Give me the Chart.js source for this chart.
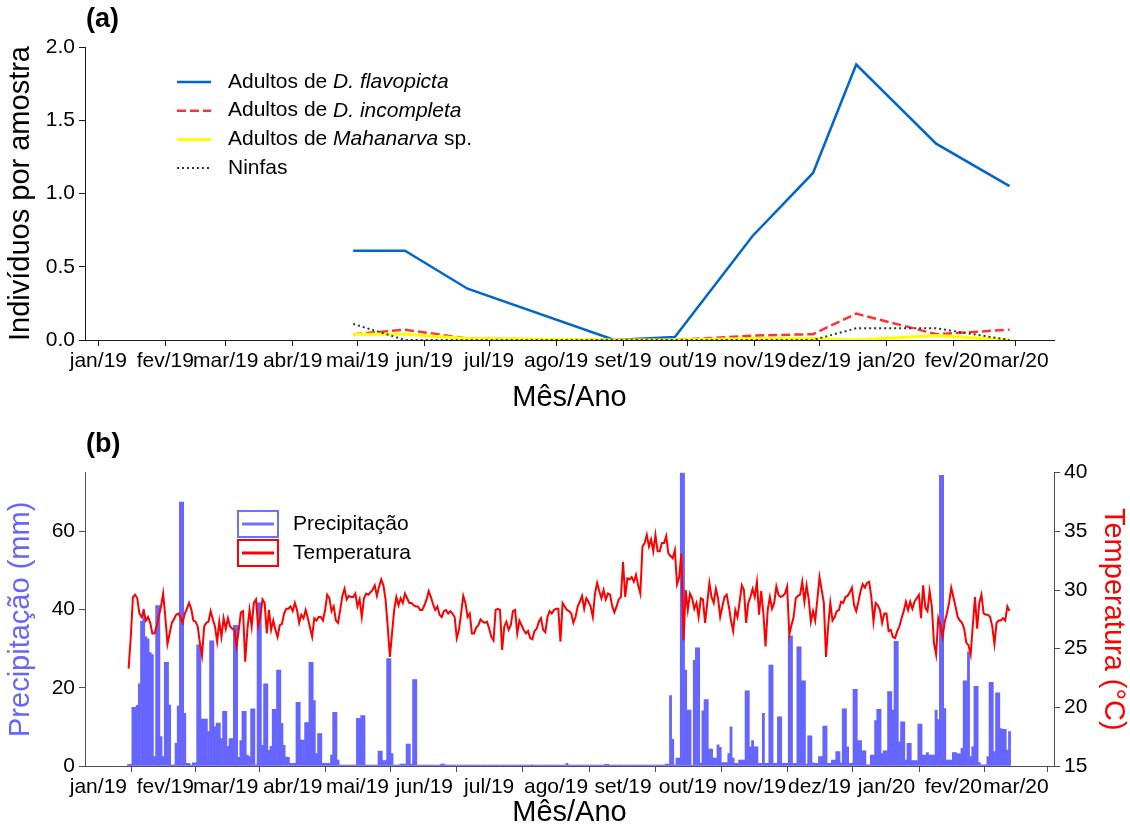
<!DOCTYPE html>
<html>
<head>
<meta charset="utf-8">
<script src="https://cdn.jsdelivr.net/npm/chart.js@4.4.1/dist/chart.umd.min.js"></script>
<style>
  html, body { margin: 0; padding: 0; background: #ffffff; }
  #wrap { position: relative; width: 1130px; height: 830px; }
  canvas { position: absolute; left: 0; }
  #cA { top: 0; width: 1130px; height: 415px; }
  #cB { top: 415px; width: 1130px; height: 415px; }
</style>
</head>
<body>
<div id="wrap">
  <canvas id="cA" width="1130" height="415"></canvas>
  <canvas id="cB" width="1130" height="415"></canvas>
</div>
<script>
// ---------- month axis ----------
const monthTicks = ['2019-01-01','2019-02-01','2019-03-01','2019-04-01','2019-05-01','2019-06-01','2019-07-01',
  '2019-08-01','2019-09-01','2019-10-01','2019-11-01','2019-12-01','2020-01-01','2020-02-01','2020-03-01'];
const monthLabels = ['jan/19','fev/19','mar/19','abr/19','mai/19','jun/19','jul/19',
  'ago/19','set/19','out/19','nov/19','dez/19','jan/20','fev/20','mar/20'];

// ---------- (a) insects per sample ----------
const sampleDates = ['2019-04-29','2019-05-23','2019-06-21','2019-08-28','2019-09-25',
  '2019-10-31','2019-11-28','2019-12-18','2020-01-24','2020-02-27'];
const flavopicta = [0.61, 0.61, 0.35, 0.00, 0.02, 0.71, 1.14, 1.88, 1.34, 1.05];
const incompleta = [0.04, 0.07, 0.01, 0.00, 0.00, 0.03, 0.04, 0.18, 0.04, 0.07];
const mahanarva  = [0.04, 0.04, 0.01, 0.00, 0.00, 0.01, 0.01, 0.00, 0.03, 0.00];
const ninfas     = [0.11, 0.00, 0.00, 0.00, 0.00, 0.00, 0.00, 0.08, 0.08, 0.00];

// ---------- (b) daily weather, from 15 Jan 2019 ----------
const weatherStart = '2019-01-15';
const precipitacao = [
  0.4, 0.4, 15, 15, 15.5, 21, 37, 40, 33, 32.5,
  29, 28.5, 2.4, 41, 41, 7.5, 2.4, 26.5, 26.5, 15.6,
  0, 0.3, 5.8, 15.3, 67.5, 67.5, 13.5, 0.7, 0.7, 0.2,
  0.8, 0.8, 31, 31, 12, 12, 12, 8.8, 32, 32,
  10, 11, 11, 7, 14, 14, 5, 7, 7, 36,
  36, 2.2, 6.5, 14, 14, 2.8, 2.4, 14.6, 14.6, 0.3,
  41.7, 41.7, 5.3, 21, 21, 4, 5, 14.5, 14.5, 24.5,
  24.5, 10.9, 5.3, 2.3, 2.2, 0.7, 0.7, 0.7, 16.3, 16.3,
  6.6, 6.6, 11.1, 11.1, 26.5, 26.5, 16.7, 3.2, 8.3, 8.3,
  0.7, 0.7, 0.7, 0.7, 2.8, 13.7, 13.7, 1.5, 0.2, 0.2,
  0.2, 0.2, 0.2, 0.2, 0.2, 0.2, 12.2, 12.2, 12.9, 12.9,
  0.1, 0.1, 0.1, 0.1, 0.1, 0.1, 3.8, 3.8, 1.4, 1.4,
  27.5, 27.5, 3.2, 0.2, 0.2, 0.2, 0.5, 0.5, 0.5, 5.6,
  5.6, 0.5, 22.1, 22.1, 0, 0, 0, 0, 0, 0,
  0, 0, 0, 0, 0, 0.5, 0.5, 0, 0, 0,
  0, 0, 0, 0, 0, 0, 0, 0, 0, 0,
  0, 0, 0, 0, 0, 0, 0, 0, 0, 0,
  0, 0, 0, 0, 0, 0, 0, 0, 0, 0,
  0, 0, 0, 0, 0, 0, 0, 0.3, 0, 0,
  0, 0, 0, 0, 0, 0, 0, 0, 0, 0,
  0, 0, 0, 0.7, 0, 0, 0, 0, 0, 0,
  0, 0, 0, 0, 0, 0, 0, 0, 0, 0,
  0, 0.4, 0.4, 0, 0, 0, 0, 0, 0, 0,
  0, 0, 0, 0, 0, 0, 0, 0, 0, 0,
  0, 0, 0, 0, 0, 0, 0, 0, 0, 0.5,
  0.5, 18, 6.8, 0.3, 2, 2, 75, 75, 24.5, 14.3,
  14.3, 0.2, 27, 30.2, 30.2, 0.7, 14.1, 17, 17, 4.3,
  4.3, 2, 2, 5.4, 4.8, 0.9, 0.9, 0.9, 3.2, 10,
  2, 0.7, 0.7, 1.5, 1.5, 1.5, 19.2, 19.2, 4.9, 6.5,
  4.9, 4.9, 0.7, 0.7, 13.5, 0.7, 0.7, 25.8, 25.8, 0.7,
  0.7, 12.6, 12.6, 0.7, 0.7, 0.7, 33.3, 33.3, 0.7, 0.7,
  30.5, 30.5, 21.8, 21.8, 0.5, 7.7, 7.7, 0.8, 0.7, 0.7,
  2.4, 2.4, 10.2, 10.2, 0.7, 0.7, 1.5, 1.5, 3.7, 3.7,
  0.8, 14.6, 14.6, 4.9, 0.7, 0.7, 19.6, 19.6, 6.5, 6.5,
  3.9, 3.9, 0.3, 0.3, 2.8, 2.8, 11.6, 14.5, 14.5, 3.2,
  3.9, 3.9, 19, 19, 14.3, 31.9, 31.9, 6.2, 11.3, 11.3,
  1.5, 5.8, 5.8, 1.4, 1.4, 1.4, 10.7, 10.7, 2.8, 2.8,
  3.4, 2.8, 2.8, 2.8, 14.3, 11.9, 74.3, 74.3, 14.7, 1.5,
  1.5, 1.5, 3.4, 3.4, 3.1, 3.1, 4.5, 21.8, 21.8, 29.2,
  2.4, 4.9, 20.4, 20.4, 0.9, 0.3, 0.3, 0.3, 2.4, 21.4,
  21.4, 3.7, 18.7, 18.7, 9.6, 9.4, 9.4, 4.1, 8.8
];
const temperatura = [
  23.3, 26.0, 29.4, 29.6, 29.3, 28.0, 27.7, 28.2, 27.4, 27.7,
  27.2, 26.3, 26.3, 26.9, 27.8, 28.6, 29.7, 27.7, 25.4, 26.3,
  27.2, 27.5, 27.9, 28.0, 27.7, 27.2, 28.0, 28.4, 28.9, 28.4,
  27.4, 27.3, 26.9, 25.5, 24.4, 26.9, 27.2, 27.3, 28.2, 27.5,
  26.9, 25.6, 27.3, 26.0, 27.6, 26.7, 27.6, 26.9, 26.7, 26.6,
  25.2, 26.6, 28.1, 28.2, 23.9, 26.6, 28.3, 26.9, 28.9, 29.2,
  26.9, 27.7, 29.2, 28.9, 26.3, 28.3, 26.6, 27.4, 26.6, 26.0,
  27.0, 27.1, 28.0, 28.4, 28.4, 28.6, 28.2, 28.9, 28.3, 27.2,
  27.9, 27.6, 28.3, 27.6, 26.8, 26.0, 27.6, 27.4, 27.7, 27.7,
  27.4, 28.3, 29.6, 29.3, 28.2, 28.6, 27.4, 27.2, 28.3, 29.5,
  30.1, 29.2, 29.5, 29.4, 29.4, 29.7, 28.6, 29.2, 27.7, 29.3,
  29.7, 29.6, 29.8, 30.0, 30.4, 29.5, 30.3, 30.9, 30.4, 29.2,
  26.9, 24.3, 26.3, 28.3, 29.4, 28.7, 29.3, 28.9, 29.7, 29.3,
  28.9, 28.9, 28.7, 28.6, 28.6, 28.3, 28.3, 28.7, 29.2, 29.9,
  29.4, 28.8, 28.3, 28.6, 27.9, 27.7, 28.2, 28.3, 28.0, 28.2,
  28.0, 27.7, 25.9, 26.6, 28.0, 29.5, 28.9, 27.7, 28.0, 26.3,
  26.3, 26.8, 27.0, 27.5, 27.3, 27.2, 27.3, 26.7, 26.0, 25.7,
  28.3, 28.4, 28.3, 24.9, 26.9, 27.3, 26.6, 27.0, 28.2, 28.3,
  26.3, 27.4, 27.0, 26.6, 26.3, 26.5, 25.9, 25.8, 26.5, 26.7,
  27.3, 27.6, 26.6, 26.4, 27.7, 28.2, 28.0, 28.3, 28.4, 28.4,
  25.6, 28.9, 28.6, 28.3, 28.2, 28.0, 27.2, 27.7, 28.6, 29.0,
  29.5, 28.4, 29.3, 29.0, 28.6, 27.7, 29.7, 30.6, 29.9, 29.3,
  30.0, 29.2, 29.7, 29.6, 28.6, 28.1, 28.6, 29.2, 29.4, 32.4,
  29.4, 31.0, 30.9, 31.1, 30.7, 31.3, 30.4, 29.7, 33.7, 34.0,
  34.7, 33.7, 34.3, 33.3, 34.7, 33.3, 33.3, 34.0, 34.0, 34.6,
  33.1, 32.9, 32.7, 33.4, 30.5, 31.1, 33.1, 25.7, 30.0, 28.3,
  29.7, 29.3, 28.4, 28.9, 27.7, 29.3, 29.2, 27.2, 28.9, 30.6,
  29.4, 28.9, 30.1, 29.3, 27.7, 28.6, 29.4, 29.6, 28.6, 27.4,
  26.5, 28.3, 27.7, 29.0, 30.4, 30.0, 27.2, 28.9, 29.4, 30.1,
  29.4, 30.7, 27.9, 29.9, 28.0, 25.2, 28.3, 29.4, 28.4, 28.9,
  30.3, 29.6, 29.4, 29.5, 29.7, 30.3, 26.2, 27.0, 27.7, 29.3,
  29.5, 29.6, 30.7, 29.0, 30.4, 29.2, 27.3, 28.2, 27.4, 29.2,
  31.1, 30.0, 28.9, 24.3, 26.9, 28.9, 27.4, 27.7, 28.2, 28.3,
  29.0, 28.9, 29.4, 29.5, 29.8, 30.2, 28.7, 28.2, 29.0, 29.9,
  30.5, 30.2, 30.6, 30.7, 29.4, 27.3, 28.9, 28.7, 28.3, 27.2,
  28.0, 28.0, 26.5, 26.6, 26.0, 25.9, 26.5, 26.9, 27.6, 28.2,
  29.0, 28.3, 29.0, 28.4, 29.0, 29.3, 29.6, 27.6, 30.4, 28.5,
  28.2, 29.9, 28.6, 25.5, 24.5, 27.6, 27.0, 26.0, 27.3, 28.0,
  28.9, 30.2, 29.4, 28.6, 27.7, 27.4, 27.2, 26.7, 25.5, 25.3,
  24.5, 27.0, 29.4, 26.7, 28.9, 29.6, 28.0, 27.9, 27.9, 27.7,
  26.9, 25.4, 27.2, 27.4, 27.4, 27.6, 27.4, 28.6, 28.2
];

// ---------- helpers ----------
const DAY0 = Date.parse('2019-01-01T00:00:00Z');
const dayNum = s => (Date.parse(s + 'T00:00:00Z') - DAY0) / 86400000;
const firstDay = dayNum(weatherStart);
const tickDays = monthTicks.map(dayNum);
const sampleDays = sampleDates.map(dayNum);
const pairs = (xs, ys) => ys.map((y, i) => ({ x: xs[i], y }));
const dailyPairs = ys => ys.map((y, i) => ({ x: firstDay + i, y }));

const FONT = '"Liberation Sans", Arial, Helvetica, sans-serif';
Chart.defaults.font.family = FONT;
Chart.defaults.color = '#000';
Chart.defaults.animation = false;

const BLUE_BAR = '#6666ff';
const AXIS_A = '#1a1a1a';
const AXIS_B = '#4d4d4d';
const TITLE_SIZE = 29;

function monthAxis(color, height) {
  return {
    type: 'linear', min: -6.2, max: 442.6, offset: false,
    afterBuildTicks: s => { s.ticks = tickDays.map(v => ({ value: v })); },
    afterFit: s => { s.height = height; },
    ticks: {
      autoSkip: false, maxRotation: 0, minRotation: 0, padding: 3,
      font: { size: 21 }, color: '#000',
      callback: (v, i) => monthLabels[i]
    },
    grid: { drawOnChartArea: false, drawTicks: true, tickLength: 6, tickColor: color, tickWidth: 1 },
    border: { display: true, color: color, width: 1 },
    title: { display: true, text: 'Mês/Ano', font: { size: TITLE_SIZE }, color: '#000', padding: { top: 0, bottom: 0 } }
  };
}

// panel tag "(a)" / "(b)"
const panelTag = {
  id: 'panelTag',
  afterDraw(chart, args, o) {
    const ctx = chart.ctx;
    ctx.save();
    ctx.font = 'bold 27px ' + FONT;
    ctx.fillStyle = '#000';
    ctx.textBaseline = 'middle';
    ctx.textAlign = 'left';
    ctx.fillText(o.text, o.x, o.y);
    ctx.restore();
  }
};

// line legend with italic species names
const lineLegend = {
  id: 'lineLegend',
  afterDraw(chart, args, o) {
    if (!o.rows) return;
    const ctx = chart.ctx;
    o.rows.forEach((runs, i) => {
      const ds = chart.data.datasets[i];
      const y = o.y + i * o.gap;
      ctx.save();
      ctx.strokeStyle = ds.borderColor;
      ctx.lineWidth = ds.borderWidth;
      ctx.setLineDash(ds.borderDash || []);
      ctx.beginPath();
      ctx.moveTo(o.x0, y);
      ctx.lineTo(o.x1, y);
      ctx.stroke();
      ctx.restore();
      ctx.save();
      ctx.fillStyle = '#000';
      ctx.textBaseline = 'middle';
      let x = o.textX;
      runs.forEach(([t, it]) => {
        ctx.font = (it ? 'italic ' : '') + '21px ' + FONT;
        ctx.fillText(t, x, y);
        x += ctx.measureText(t).width;
      });
      ctx.restore();
    });
  }
};

// boxed legend for the weather panel
const boxLegend = {
  id: 'boxLegend',
  afterDraw(chart, args, o) {
    if (!o.items) return;
    const ctx = chart.ctx;
    o.items.forEach((it, i) => {
      const ds = chart.data.datasets[it.dataset];
      const top = o.y + i * o.gap;
      ctx.save();
      ctx.strokeStyle = it.color;
      ctx.lineWidth = 2;
      ctx.strokeRect(o.x, top, o.w, o.h);
      ctx.lineWidth = 3;
      ctx.beginPath();
      ctx.moveTo(o.x + 4, top + o.h / 2);
      ctx.lineTo(o.x + o.w - 4, top + o.h / 2);
      ctx.stroke();
      ctx.fillStyle = '#000';
      ctx.font = '21px ' + FONT;
      ctx.textBaseline = 'middle';
      ctx.fillText(ds.label, o.textX, top + o.h / 2);
      ctx.restore();
    });
  }
};

// ---------- panel (a) ----------
new Chart(document.getElementById('cA'), {
  type: 'line',
  data: {
    datasets: [
      { label: 'Adultos de D. flavopicta', data: pairs(sampleDays, flavopicta),
        borderColor: '#0066cc', borderWidth: 2.5, order: 3 },
      { label: 'Adultos de D. incompleta', data: pairs(sampleDays, incompleta),
        borderColor: '#ff3333', borderWidth: 2.5, borderDash: [9, 4], order: 2 },
      { label: 'Adultos de Mahanarva sp.', data: pairs(sampleDays, mahanarva),
        borderColor: '#ffff00', borderWidth: 3, order: 1 },
      { label: 'Ninfas', data: pairs(sampleDays, ninfas),
        borderColor: '#333333', borderWidth: 2, borderDash: [2, 3], order: 0 }
    ]
  },
  options: {
    responsive: false, devicePixelRatio: 1, animation: false,
    layout: { padding: { left: 0, right: 76, top: 47, bottom: 0 } },
    elements: { point: { radius: 0 }, line: { tension: 0, fill: false } },
    plugins: {
      legend: { display: false }, tooltip: { enabled: false },
      panelTag: { text: '(a)', x: 86, y: 20 },
      lineLegend: {
        x0: 177, x1: 211, textX: 228, y: 82, gap: 28.7,
        rows: [
          [['Adultos de ', false], ['D. flavopicta', true]],
          [['Adultos de ', false], ['D. incompleta', true]],
          [['Adultos de ', false], ['Mahanarva', true], [' sp.', false]],
          [['Ninfas', false]]
        ]
      }
    },
    scales: {
      x: monthAxis(AXIS_A, 75),
      y: {
        type: 'linear', min: 0, max: 2,
        afterBuildTicks: s => { s.ticks = [0, 0.5, 1, 1.5, 2].map(v => ({ value: v })); },
        afterFit: s => { s.width = 85; },
        ticks: { font: { size: 21 }, color: '#000', padding: 4, callback: v => Number(v).toFixed(1) },
        grid: { drawOnChartArea: false, drawTicks: true, tickLength: 6, tickColor: AXIS_A },
        border: { display: true, color: AXIS_A, width: 1 },
        title: { display: true, text: 'Indivíduos por amostra', font: { size: TITLE_SIZE }, color: '#000', padding: { top: 4, bottom: 0 } }
      }
    }
  },
  plugins: [panelTag, lineLegend]
});

// ---------- panel (b) ----------
new Chart(document.getElementById('cB'), {
  type: 'bar',
  data: {
    datasets: [
      { type: 'bar', label: 'Precipitação', data: dailyPairs(precipitacao), yAxisID: 'y',
        backgroundColor: BLUE_BAR, borderWidth: 0, barPercentage: 1, categoryPercentage: 1,
        minBarLength: 1, order: 1 },
      { type: 'line', label: 'Temperatura', data: dailyPairs(temperatura), yAxisID: 'y2',
        borderColor: '#ff0000', borderWidth: 2, pointRadius: 0, tension: 0, fill: false, order: 0 }
    ]
  },
  options: {
    responsive: false, devicePixelRatio: 1, animation: false,
    layout: { padding: { left: 0, right: 0, top: 57.7, bottom: 0 } },
    plugins: {
      legend: { display: false }, tooltip: { enabled: false },
      panelTag: { text: '(b)', x: 86, y: 30 },
      boxLegend: {
        x: 238, w: 40, h: 26, y: 96, gap: 29, textX: 293,
        items: [ { dataset: 0, color: '#7070ff' }, { dataset: 1, color: '#ff0000' } ]
      }
    },
    scales: {
      x: monthAxis(AXIS_B, 64),
      y: {
        type: 'linear', position: 'left', min: 0, max: 75,
        afterBuildTicks: s => { s.ticks = [0, 20, 40, 60].map(v => ({ value: v })); },
        afterFit: s => { s.width = 85; },
        ticks: { font: { size: 21 }, color: '#000', padding: 4 },
        grid: { drawOnChartArea: false, drawTicks: true, tickLength: 6, tickColor: AXIS_B },
        border: { display: true, color: AXIS_B, width: 1 },
        title: { display: true, text: 'Precipitação (mm)', font: { size: TITLE_SIZE }, color: BLUE_BAR, padding: { top: 4, bottom: 0 } }
      },
      y2: {
        type: 'linear', position: 'right', min: 15, max: 40,
        afterBuildTicks: s => { s.ticks = [15, 20, 25, 30, 35, 40].map(v => ({ value: v })); },
        afterFit: s => { s.width = 76; },
        ticks: { font: { size: 21 }, color: '#000', padding: 4 },
        grid: { drawOnChartArea: false, drawTicks: true, tickLength: 6, tickColor: AXIS_B },
        border: { display: true, color: AXIS_B, width: 1 },
        title: { display: true, text: 'Temperatura (°C)', font: { size: TITLE_SIZE }, color: '#ff0000', padding: { top: 0, bottom: 0 } }
      }
    }
  },
  plugins: [panelTag, boxLegend]
});
</script>
</body>
</html>
